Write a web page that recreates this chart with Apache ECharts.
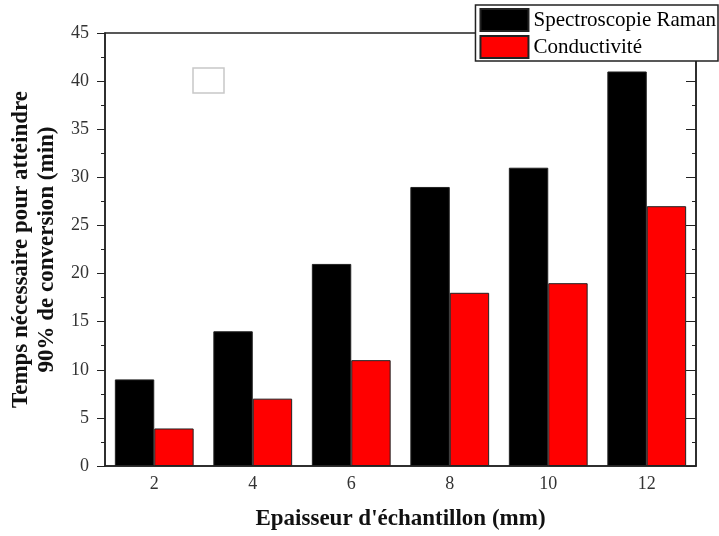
<!DOCTYPE html>
<html><head><meta charset="utf-8">
<script src="https://cdn.jsdelivr.net/npm/echarts@6/dist/echarts.min.js"></script>
<style>html,body{margin:0;padding:0;background:#fff}#c{width:719px;height:536px}</style>
</head><body><div id="c"></div>
<script>
const categories = ['2','4','6','8','10','12'];
const ramanValues = [9, 14, 21, 29, 31, 41];
const conductValues = [3.9, 7, 11, 18, 19, 27];
const seriesNames = ['Spectroscopie Raman', 'Conductivité'];
const yTitle = 'Temps nécessaire pour atteindre\n90% de conversion (min)';
const xTitle = "Epaisseur d'échantillon (mm)";

const chart = echarts.init(document.getElementById('c'), null, {renderer:'canvas'});
const font = 'Liberation Serif';
chart.setOption({
  animation:false,
  backgroundColor:'#fff',
  textStyle:{fontFamily:font},
  grid:{left:105, right:23, top:33, bottom:70, show:true, borderColor:'#222', borderWidth:1.5,
    backgroundColor:'transparent', containLabel:false, outerBoundsMode:'none'},
  legend:{
    orient:'vertical', right:1, top:5, itemWidth:48, itemHeight:22, itemGap:3,
    backgroundColor:'#fff', borderColor:'#222', borderWidth:1.5, padding:[3,2,2,4],
    textStyle:{fontFamily:font, fontSize:21, color:'#000'},
    icon:'rect',
    data:seriesNames
  },
  xAxis:{type:'category', data:categories,
    axisLine:{lineStyle:{color:'#222', width:1.5}},
    axisTick:{show:false},
    axisLabel:{fontSize:18, color:'#333', fontFamily:font, margin:9},
    name:xTitle, nameLocation:'middle', nameGap:42,
    nameTextStyle:{fontFamily:font, fontSize:23, fontWeight:'bold', color:'#111'}
  },
  yAxis:[{type:'value', min:0, max:45, interval:5,
    axisLine:{show:true, lineStyle:{color:'#222', width:1.5}},
    axisTick:{show:true, inside:false, length:8, lineStyle:{color:'#222'}},
    minorTick:{show:true, splitNumber:2, length:4, lineStyle:{color:'#222'}},
    splitLine:{show:false},
    axisLabel:{fontSize:18, color:'#333', fontFamily:font, margin:16},
    name:yTitle, nameLocation:'middle', nameGap:44,
    nameTextStyle:{fontFamily:font, fontSize:23, fontWeight:'bold', color:'#111', lineHeight:26}
  },{type:'value', position:'right', min:0, max:45, interval:5,
    axisLine:{show:true, lineStyle:{color:'#222', width:1.5}},
    axisTick:{show:true, inside:true, length:10, lineStyle:{color:'#222'}},
    minorTick:{show:true, splitNumber:2, length:4, lineStyle:{color:'#222'}},
    splitLine:{show:false}, axisLabel:{show:false}
  }],
  series:[
    {name:seriesNames[0], type:'bar', data:ramanValues, barGap:'0%', barCategoryGap:'20%',
      itemStyle:{color:'#000', borderColor:'#222', borderWidth:1}},
    {name:seriesNames[1], type:'bar', data:conductValues,
      itemStyle:{color:'#ff0000', borderColor:'#222', borderWidth:1}}
  ],
  graphic:[{type:'rect', shape:{x:193, y:68, width:31, height:25}, style:{fill:'#fff', stroke:'#c8c8c8', lineWidth:1.5}, z:5}]
});
</script></body></html>
